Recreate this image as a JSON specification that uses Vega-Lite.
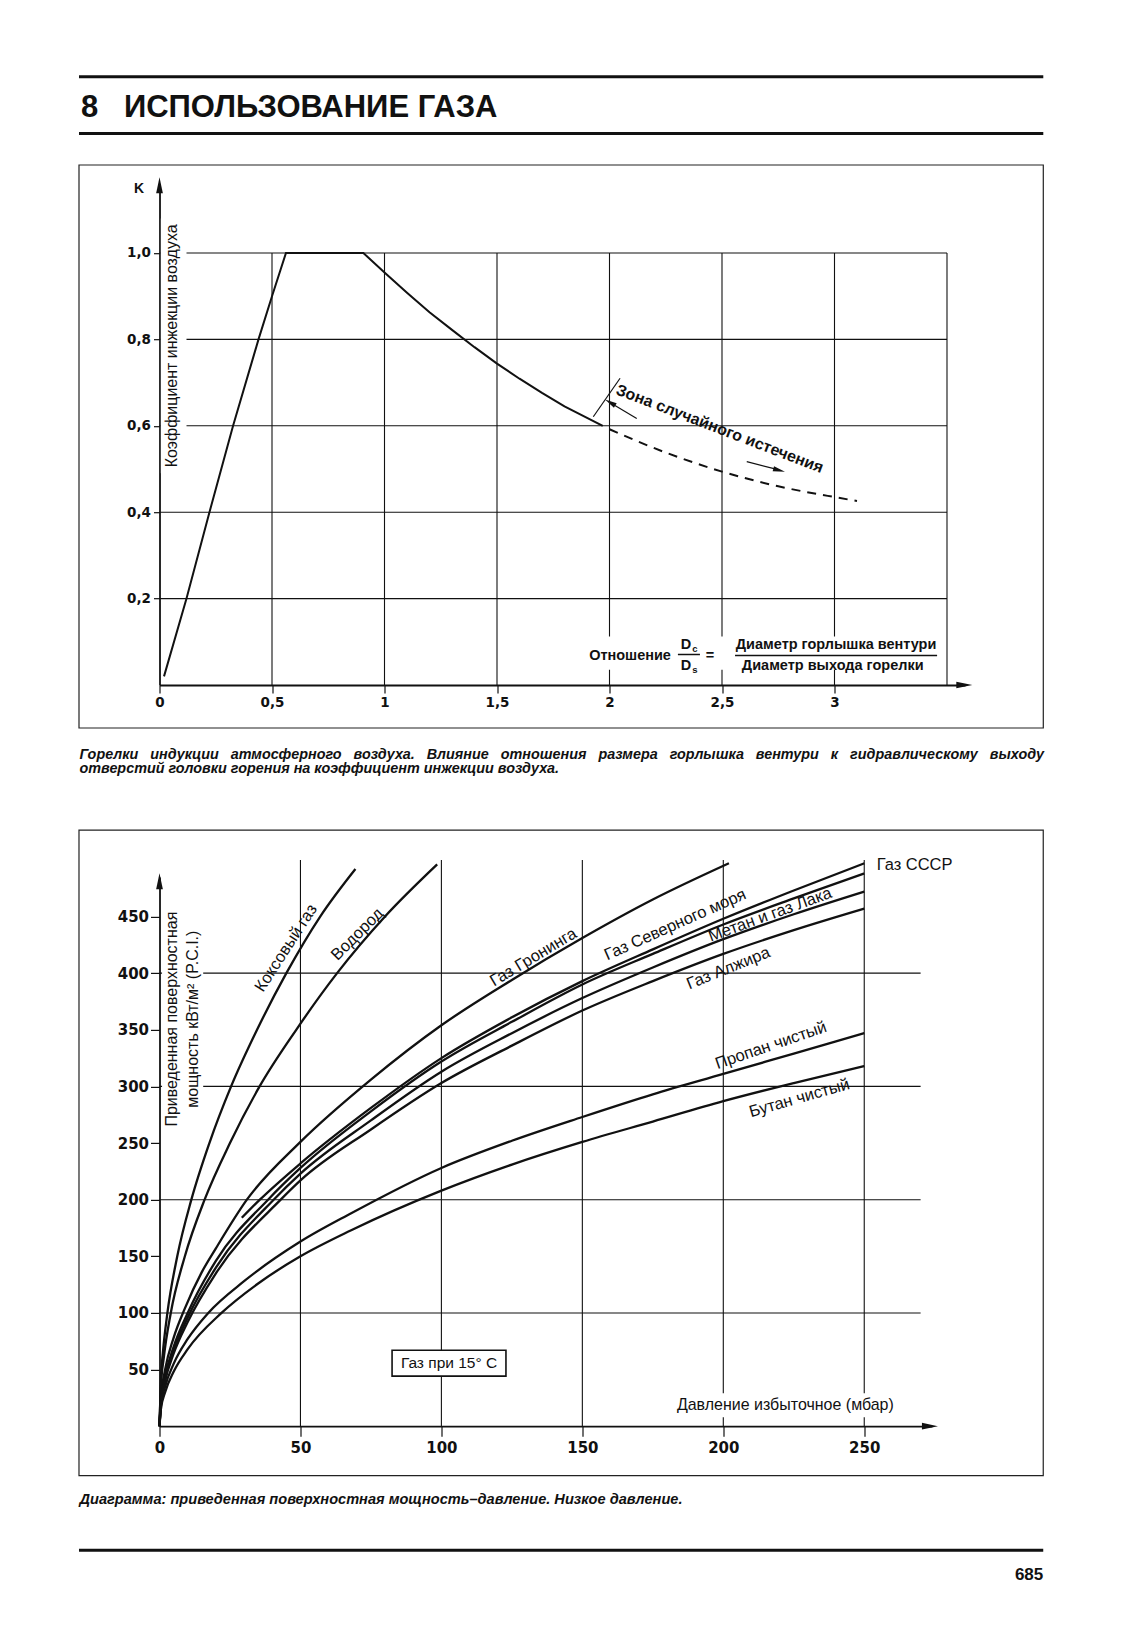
{
"$schema":"https://vega.github.io/schema/vega-lite/v6.json",
"background":"white",
"padding":{"left":76.5,"top":75.2,"right":0,"bottom":20},
"config":{"view":{"stroke":null},"font":"Liberation Sans","text":{"font":"Liberation Sans","color":"#111"},"axis":{"domainColor":"#111","tickColor":"#111","labelColor":"#111","labelFont":"DejaVu Sans","labelFontWeight":"bold","labelFlush":false,"labelOverlap":false,"grid":false,"zindex":1}},
"datasets":{
"frame1":[{"x0":-0.3578,"x1":3.928,"y0":-0.0995,"y1":1.2037}],
"hdr":[{"x0":-0.3578,"x1":3.928,"y":1.408},{"x0":-0.3578,"x1":3.928,"y":1.2769}],
"g1x":[{"v":0.5},{"v":1},{"v":1.5},{"v":2},{"v":2.5},{"v":3},{"v":3.5}],
"g1y":[{"v":0.2},{"v":0.4},{"v":0.6},{"v":0.8},{"v":1}],
"blank1":[{"x0":0.006,"x1":0.12,"y0":0.49,"y1":1.08},{"x0":1.89,"x1":3.45,"y0":0.035,"y1":0.112}],
"c1":[
{"r":0.02,"k":0.02,"s":"solid"},{"r":0.12,"k":0.2,"s":"solid"},{"r":0.222,"k":0.4,"s":"solid"},{"r":0.327,"k":0.6,"s":"solid"},{"r":0.44,"k":0.8,"s":"solid"},{"r":0.5,"k":0.9,"s":"solid"},{"r":0.562,"k":1.0,"s":"solid"},{"r":0.906,"k":1.0,"s":"solid"},{"r":1.0,"k":0.955,"s":"solid"},{"r":1.1,"k":0.908,"s":"solid"},{"r":1.2,"k":0.863,"s":"solid"},{"r":1.3,"k":0.822,"s":"solid"},{"r":1.4,"k":0.782,"s":"solid"},{"r":1.5,"k":0.744,"s":"solid"},{"r":1.6,"k":0.709,"s":"solid"},{"r":1.7,"k":0.676,"s":"solid"},{"r":1.8,"k":0.645,"s":"solid"},{"r":1.97,"k":0.6,"s":"solid"},
{"r":2.0,"k":0.592,"s":"dashed"},{"r":2.25,"k":0.538,"s":"dashed"},{"r":2.5,"k":0.494,"s":"dashed"},{"r":2.75,"k":0.46,"s":"dashed"},{"r":3.0,"k":0.435,"s":"dashed"},{"r":3.1,"k":0.426,"s":"dashed"}],
"bars1":[{"x0":2.304,"x1":2.402,"y":0.0706},{"x0":2.558,"x1":3.456,"y":0.0683}],
"zr1":[{"x0":1.928,"y0":0.621,"x1":2.047,"y1":0.71},{"x0":2.121,"y0":0.617,"x1":2.002,"y1":0.654},{"x0":2.61,"y0":0.517,"x1":2.753,"y1":0.498}],
"ah1":[{"id":"up","r":0,"k":1.157},{"id":"right","r":3.577,"k":0},{"id":"zl","r":2.003,"k":0.654},{"id":"zr","r":2.754,"k":0.497}],
"t1":[
{"id":"hd","t":"8","r":-0.349,"k":1.3352},
{"id":"hd","t":"ИСПОЛЬЗОВАНИЕ ГАЗА","r":-0.158,"k":1.3352},
{"id":"cap","t":"Горелки \u00a0\u00a0индукции \u00a0\u00a0атмосферного \u00a0\u00a0воздуха. \u00a0\u00a0Влияние \u00a0\u00a0отношения \u00a0\u00a0размера \u00a0\u00a0горлышка \u00a0\u00a0вентури \u00a0\u00a0к \u00a0\u00a0гидравлическому \u00a0\u00a0выходу","r":-0.3556,"k":-0.162},
{"id":"cap","t":"отверстий головки горения на коэффициент инжекции воздуха.","r":-0.3556,"k":-0.194},
{"id":"K","t":"K","r":-0.091,"k":1.148},
{"id":"yt","t":"Коэффициент инжекции воздуха","r":0.0542,"k":0.785},
{"id":"fr","t":"Отношение","r":2.273,"k":0.066},
{"id":"fc","t":"D","r":2.34,"k":0.0926},
{"id":"fc","t":"D","r":2.34,"k":0.044},
{"id":"fc","t":"=","r":2.447,"k":0.068},
{"id":"fc","t":"Диаметр горлышка вентури","r":3.007,"k":0.0926},
{"id":"fc","t":"Диаметр выхода горелки","r":2.992,"k":0.044},
{"id":"fs","t":"c","r":2.38,"k":0.083},
{"id":"fs","t":"s","r":2.38,"k":0.0347},
{"id":"zone","t":"Зона случайного истечения","r":2.49,"k":0.593}],
"frame2":[{"x0":-28.56,"x1":313.5,"y0":-43.7,"y1":526.3}],
"ftr":[{"x0":-28.56,"x1":313.5,"y":-109.5}],
"g2x":[{"v":50},{"v":100},{"v":150},{"v":200},{"v":250}],
"g2y":[{"v":100},{"v":200},{"v":300},{"v":400}],
"blank2":[{"x0":0.9,"x1":15.5,"y0":255,"y1":462},{"x0":178,"x1":262,"y0":8,"y1":29}],
"box2":[{"x0":82.5,"x1":122.9,"y0":44.2,"y1":67.1}],
"c2":[
{"g":"Коксовый газ","p":0,"w":0},{"g":"Коксовый газ","p":0.5,"w":42},{"g":"Коксовый газ","p":1.2,"w":65},{"g":"Коксовый газ","p":2.8,"w":100},{"g":"Коксовый газ","p":6.3,"w":150},{"g":"Коксовый газ","p":11.3,"w":200},{"g":"Коксовый газ","p":17.7,"w":250},{"g":"Коксовый газ","p":25.4,"w":300},{"g":"Коксовый газ","p":34.6,"w":350},{"g":"Коксовый газ","p":45,"w":400},{"g":"Коксовый газ","p":57,"w":450},{"g":"Коксовый газ","p":69.5,"w":492},
{"g":"Водород","p":0,"w":0},{"g":"Водород","p":0.5,"w":35},{"g":"Водород","p":1.5,"w":60},{"g":"Водород","p":4,"w":100},{"g":"Водород","p":9,"w":150},{"g":"Водород","p":16,"w":200},{"g":"Водород","p":25,"w":250},{"g":"Водород","p":35.5,"w":300},{"g":"Водород","p":48.5,"w":350},{"g":"Водород","p":63,"w":400},{"g":"Водород","p":80,"w":450},{"g":"Водород","p":98.5,"w":496},
{"g":"Газ Гронинга","p":0,"w":0},{"g":"Газ Гронинга","p":0.5,"w":25},{"g":"Газ Гронинга","p":2,"w":50},{"g":"Газ Гронинга","p":5,"w":78},{"g":"Газ Гронинга","p":9,"w":104},{"g":"Газ Гронинга","p":15,"w":136},{"g":"Газ Гронинга","p":20,"w":157},{"g":"Газ Гронинга","p":31,"w":200},{"g":"Газ Гронинга","p":50,"w":251},{"g":"Газ Гронинга","p":75,"w":306},{"g":"Газ Гронинга","p":100,"w":354},{"g":"Газ Гронинга","p":125,"w":394},{"g":"Газ Гронинга","p":150,"w":431},{"g":"Газ Гронинга","p":175,"w":465},{"g":"Газ Гронинга","p":202,"w":497},
{"g":"Газ СССР","p":29.2,"w":184},{"g":"Газ СССР","p":35.6,"w":200},{"g":"Газ СССР","p":50,"w":232},{"g":"Газ СССР","p":75,"w":281},{"g":"Газ СССР","p":100,"w":325},{"g":"Газ СССР","p":125,"w":361},{"g":"Газ СССР","p":150,"w":393},{"g":"Газ СССР","p":175,"w":421},{"g":"Газ СССР","p":200,"w":448},{"g":"Газ СССР","p":225,"w":473},{"g":"Газ СССР","p":250,"w":497},
{"g":"Газ Северного моря","p":0,"w":0},{"g":"Газ Северного моря","p":0.5,"w":22},{"g":"Газ Северного моря","p":2,"w":44},{"g":"Газ Северного моря","p":5,"w":70},{"g":"Газ Северного моря","p":10,"w":100},{"g":"Газ Северного моря","p":20,"w":146},{"g":"Газ Северного моря","p":38.5,"w":200},{"g":"Газ Северного моря","p":50,"w":228},{"g":"Газ Северного моря","p":75,"w":278},{"g":"Газ Северного моря","p":100,"w":322},{"g":"Газ Северного моря","p":125,"w":357},{"g":"Газ Северного моря","p":150,"w":390},{"g":"Газ Северного моря","p":175,"w":417},{"g":"Газ Северного моря","p":200,"w":443},{"g":"Газ Северного моря","p":225,"w":466},{"g":"Газ Северного моря","p":250,"w":488},
{"g":"Метан и газ Лака","p":0,"w":0},{"g":"Метан и газ Лака","p":0.5,"w":21},{"g":"Метан и газ Лака","p":2,"w":42},{"g":"Метан и газ Лака","p":5,"w":67},{"g":"Метан и газ Лака","p":10,"w":96},{"g":"Метан и газ Лака","p":20,"w":140},{"g":"Метан и газ Лака","p":40.5,"w":200},{"g":"Метан и газ Лака","p":50,"w":223},{"g":"Метан и газ Лака","p":75,"w":270},{"g":"Метан и газ Лака","p":100,"w":313},{"g":"Метан и газ Лака","p":125,"w":347},{"g":"Метан и газ Лака","p":150,"w":378},{"g":"Метан и газ Лака","p":175,"w":405},{"g":"Метан и газ Лака","p":200,"w":430},{"g":"Метан и газ Лака","p":225,"w":452},{"g":"Метан и газ Лака","p":250,"w":472},
{"g":"Газ Алжира","p":0,"w":0},{"g":"Газ Алжира","p":0.5,"w":20},{"g":"Газ Алжира","p":2,"w":40},{"g":"Газ Алжира","p":5,"w":64},{"g":"Газ Алжира","p":10,"w":92},{"g":"Газ Алжира","p":20,"w":135},{"g":"Газ Алжира","p":43,"w":200},{"g":"Газ Алжира","p":50,"w":217},{"g":"Газ Алжира","p":75,"w":262},{"g":"Газ Алжира","p":100,"w":303},{"g":"Газ Алжира","p":125,"w":336},{"g":"Газ Алжира","p":150,"w":367},{"g":"Газ Алжира","p":175,"w":393},{"g":"Газ Алжира","p":200,"w":417},{"g":"Газ Алжира","p":225,"w":438},{"g":"Газ Алжира","p":250,"w":457},
{"g":"Пропан чистый","p":0,"w":0},{"g":"Пропан чистый","p":0.5,"w":18},{"g":"Пропан чистый","p":2,"w":35},{"g":"Пропан чистый","p":5,"w":55},{"g":"Пропан чистый","p":10,"w":77},{"g":"Пропан чистый","p":17.3,"w":100},{"g":"Пропан чистый","p":30,"w":128},{"g":"Пропан чистый","p":50,"w":163},{"g":"Пропан чистый","p":68,"w":188},{"g":"Пропан чистый","p":100,"w":228},{"g":"Пропан чистый","p":125,"w":252},{"g":"Пропан чистый","p":150,"w":273},{"g":"Пропан чистый","p":175,"w":293},{"g":"Пропан чистый","p":200,"w":311},{"g":"Пропан чистый","p":225,"w":329},{"g":"Пропан чистый","p":250,"w":347},
{"g":"Бутан чистый","p":0,"w":0},{"g":"Бутан чистый","p":0.5,"w":15},{"g":"Бутан чистый","p":2,"w":30},{"g":"Бутан чистый","p":5,"w":48},{"g":"Бутан чистый","p":10,"w":68},{"g":"Бутан чистый","p":22,"w":100},{"g":"Бутан чистый","p":35,"w":126},{"g":"Бутан чистый","p":50,"w":150},{"g":"Бутан чистый","p":68,"w":173},{"g":"Бутан чистый","p":100,"w":208},{"g":"Бутан чистый","p":125,"w":231},{"g":"Бутан чистый","p":150,"w":251},{"g":"Бутан чистый","p":175,"w":269},{"g":"Бутан чистый","p":200,"w":287},{"g":"Бутан чистый","p":225,"w":303},{"g":"Бутан чистый","p":250,"w":318}],
"lab2":[{"n":"Коксовый газ","p":44.9,"w":422.1},{"n":"Водород","p":70.2,"w":434.4},{"n":"Газ Гронинга","p":132.6,"w":414},{"n":"Газ Северного моря","p":182.9,"w":442.8},{"n":"Метан и газ Лака","p":216.6,"w":451.6},{"n":"Газ Алжира","p":201.8,"w":404.3},{"n":"Пропан чистый","p":216.9,"w":336.2},{"n":"Бутан чистый","p":227,"w":289.7},{"n":"Газ СССР","p":254.4,"w":495.4}],
"t2":[
{"id":"cap","t":"Диаграмма: приведенная поверхностная мощность–давление. Низкое давление.","p":-28.38,"w":-65.3},
{"id":"pg","t":"685","p":313.5,"w":-131.6},
{"id":"yt","t":"Приведенная поверхностная","p":4.33,"w":359.4},
{"id":"yt","t":"мощность кВт/м² (P.C.I.)","p":11.99,"w":359.4},
{"id":"xt","t":"Давление избыточное (мбар)","p":260.5,"w":18.5},
{"id":"box","t":"Газ при 15° C","p":102.7,"w":55.7}],
"ah2":[{"id":"up","p":0,"w":481.2},{"id":"right","p":273.3,"w":0}]
},
"spacing":191.7,
"bounds":"flush",
"vconcat":[
{"width":805.5,"height":496.8,"layer":[
{"data":{"name":"frame1"},"mark":{"type":"rect","filled":false,"stroke":"#222","strokeWidth":1.2},"encoding":{"x":{"field":"x0","type":"quantitative","scale":{"domain":[0,3.58],"nice":false,"zero":false},"axis":{"orient":"bottom","values":[0,0.5,1,1.5,2,2.5,3],"format":"~g","labelExpr":"replace(datum.label, '.', ',')","title":null,"domainWidth":1.8,"tickSize":8,"tickWidth":1.2,"labelPadding":3,"labelFontSize":13.5}},"x2":{"field":"x1"},"y":{"field":"y0","type":"quantitative","scale":{"domain":[0,1.15],"nice":false,"zero":false},"axis":{"orient":"left","values":[0.2,0.4,0.6,0.8,1],"format":".1f","labelExpr":"replace(datum.label, '.', ',')","title":null,"domainWidth":1.8,"tickSize":6,"tickWidth":1.2,"labelPadding":3,"labelFontSize":13.5}},"y2":{"field":"y1"}}},
{"data":{"name":"hdr"},"mark":{"type":"rule","color":"#111","strokeWidth":3},"encoding":{"x":{"field":"x0","type":"quantitative"},"x2":{"field":"x1"},"y":{"field":"y","type":"quantitative"}}},
{"data":{"name":"g1x"},"mark":{"type":"rule","color":"#111","strokeWidth":1.1},"encoding":{"x":{"field":"v","type":"quantitative"},"y":{"datum":0,"type":"quantitative"},"y2":{"datum":1}}},
{"data":{"name":"g1y"},"mark":{"type":"rule","color":"#111","strokeWidth":1.1},"encoding":{"y":{"field":"v","type":"quantitative"},"x":{"datum":0,"type":"quantitative"},"x2":{"datum":3.5}}},
{"data":{"name":"blank1"},"mark":{"type":"rect","fill":"white","strokeWidth":0},"encoding":{"x":{"field":"x0","type":"quantitative"},"x2":{"field":"x1"},"y":{"field":"y0","type":"quantitative"},"y2":{"field":"y1"}}},
{"data":{"name":"c1"},"transform":[{"filter":"datum.s === 'solid'"}],"mark":{"type":"line","color":"#111","strokeWidth":2},"encoding":{"x":{"field":"r","type":"quantitative"},"y":{"field":"k","type":"quantitative"}}},
{"data":{"name":"c1"},"transform":[{"filter":"datum.s === 'dashed'"}],"mark":{"type":"line","color":"#111","strokeWidth":2,"strokeDash":[9,7],"interpolate":"monotone"},"encoding":{"x":{"field":"r","type":"quantitative"},"y":{"field":"k","type":"quantitative"}}},
{"data":{"name":"bars1"},"mark":{"type":"rule","color":"#111","strokeWidth":1.5},"encoding":{"x":{"field":"x0","type":"quantitative"},"x2":{"field":"x1"},"y":{"field":"y","type":"quantitative"}}},
{"data":{"name":"zr1"},"mark":{"type":"rule","color":"#111","strokeWidth":1.2},"encoding":{"x":{"field":"x0","type":"quantitative"},"x2":{"field":"x1"},"y":{"field":"y0","type":"quantitative"},"y2":{"field":"y1"}}},
{"data":{"name":"ah1"},"transform":[{"filter":"datum.id === 'up'"}],"mark":{"type":"point","shape":"M0,-1L0.42,1L-0.42,1Z","size":256,"filled":true,"color":"#111","opacity":1,"strokeWidth":0},"encoding":{"x":{"field":"r","type":"quantitative"},"y":{"field":"k","type":"quantitative"}}},
{"data":{"name":"ah1"},"transform":[{"filter":"datum.id === 'right'"}],"mark":{"type":"point","shape":"M1,0L-1,0.42L-1,-0.42Z","size":256,"filled":true,"color":"#111","opacity":1,"strokeWidth":0},"encoding":{"x":{"field":"r","type":"quantitative"},"y":{"field":"k","type":"quantitative"}}},
{"data":{"name":"ah1"},"transform":[{"filter":"datum.id === 'zl'"}],"mark":{"type":"point","shape":"M1,0L-1,0.45L-1,-0.45Z","size":144,"angle":211,"filled":true,"color":"#111","opacity":1,"strokeWidth":0},"encoding":{"x":{"field":"r","type":"quantitative"},"y":{"field":"k","type":"quantitative"}}},
{"data":{"name":"ah1"},"transform":[{"filter":"datum.id === 'zr'"}],"mark":{"type":"point","shape":"M1,0L-1,0.45L-1,-0.45Z","size":144,"angle":15,"filled":true,"color":"#111","opacity":1,"strokeWidth":0},"encoding":{"x":{"field":"r","type":"quantitative"},"y":{"field":"k","type":"quantitative"}}},
{"data":{"name":"t1"},"transform":[{"filter":"datum.id === 'hd'"}],"mark":{"type":"text","fontSize":31,"fontWeight":"bold","align":"left","baseline":"middle"},"encoding":{"x":{"field":"r","type":"quantitative"},"y":{"field":"k","type":"quantitative"},"text":{"field":"t"}}},
{"data":{"name":"t1"},"transform":[{"filter":"datum.id === 'cap'"}],"mark":{"type":"text","fontSize":14.4,"fontWeight":"bold","fontStyle":"italic","align":"left","baseline":"middle"},"encoding":{"x":{"field":"r","type":"quantitative"},"y":{"field":"k","type":"quantitative"},"text":{"field":"t"}}},
{"data":{"name":"t1"},"transform":[{"filter":"datum.id === 'K'"}],"mark":{"type":"text","fontSize":14,"fontWeight":"bold","align":"center","baseline":"middle"},"encoding":{"x":{"field":"r","type":"quantitative"},"y":{"field":"k","type":"quantitative"},"text":{"field":"t"}}},
{"data":{"name":"t1"},"transform":[{"filter":"datum.id === 'yt'"}],"mark":{"type":"text","fontSize":16,"angle":270,"align":"center","baseline":"middle"},"encoding":{"x":{"field":"r","type":"quantitative"},"y":{"field":"k","type":"quantitative"},"text":{"field":"t"}}},
{"data":{"name":"t1"},"transform":[{"filter":"datum.id === 'fr'"}],"mark":{"type":"text","fontSize":14.5,"fontWeight":"bold","align":"right","baseline":"middle"},"encoding":{"x":{"field":"r","type":"quantitative"},"y":{"field":"k","type":"quantitative"},"text":{"field":"t"}}},
{"data":{"name":"t1"},"transform":[{"filter":"datum.id === 'fc'"}],"mark":{"type":"text","fontSize":14.5,"fontWeight":"bold","align":"center","baseline":"middle"},"encoding":{"x":{"field":"r","type":"quantitative"},"y":{"field":"k","type":"quantitative"},"text":{"field":"t"}}},
{"data":{"name":"t1"},"transform":[{"filter":"datum.id === 'fs'"}],"mark":{"type":"text","fontSize":9.5,"fontWeight":"bold","align":"center","baseline":"middle"},"encoding":{"x":{"field":"r","type":"quantitative"},"y":{"field":"k","type":"quantitative"},"text":{"field":"t"}}},
{"data":{"name":"t1"},"transform":[{"filter":"datum.id === 'zone'"}],"mark":{"type":"text","fontSize":16,"fontWeight":"bold","angle":21,"align":"center","baseline":"middle"},"encoding":{"x":{"field":"r","type":"quantitative"},"y":{"field":"k","type":"quantitative"},"text":{"field":"t"}}}
]},
{"width":772.4,"height":549.3,"layer":[
{"data":{"name":"frame2"},"mark":{"type":"rect","filled":false,"stroke":"#222","strokeWidth":1.2},"encoding":{"x":{"field":"x0","type":"quantitative","scale":{"domain":[0,274],"nice":false,"zero":false},"axis":{"orient":"bottom","values":[0,50,100,150,200,250],"title":null,"domainWidth":1.8,"tickSize":10,"tickWidth":1.2,"labelPadding":4,"labelFontSize":15}},"x2":{"field":"x1"},"y":{"field":"y0","type":"quantitative","scale":{"domain":[0,485],"nice":false,"zero":false},"axis":{"orient":"left","values":[50,100,150,200,250,300,350,400,450],"title":null,"domainWidth":1.8,"tickSize":9,"tickWidth":1.2,"labelPadding":2,"labelFontSize":15}},"y2":{"field":"y1"}}},
{"data":{"name":"ftr"},"mark":{"type":"rule","color":"#111","strokeWidth":3},"encoding":{"x":{"field":"x0","type":"quantitative"},"x2":{"field":"x1"},"y":{"field":"y","type":"quantitative"}}},
{"data":{"name":"g2x"},"mark":{"type":"rule","color":"#111","strokeWidth":1.1},"encoding":{"x":{"field":"v","type":"quantitative"},"y":{"datum":0,"type":"quantitative"},"y2":{"datum":500}}},
{"data":{"name":"g2y"},"mark":{"type":"rule","color":"#111","strokeWidth":1.1},"encoding":{"y":{"field":"v","type":"quantitative"},"x":{"datum":0,"type":"quantitative"},"x2":{"datum":270}}},
{"data":{"name":"blank2"},"mark":{"type":"rect","fill":"white","strokeWidth":0},"encoding":{"x":{"field":"x0","type":"quantitative"},"x2":{"field":"x1"},"y":{"field":"y0","type":"quantitative"},"y2":{"field":"y1"}}},
{"data":{"name":"box2"},"mark":{"type":"rect","fill":"white","stroke":"#111","strokeWidth":1.6},"encoding":{"x":{"field":"x0","type":"quantitative"},"x2":{"field":"x1"},"y":{"field":"y0","type":"quantitative"},"y2":{"field":"y1"}}},
{"data":{"name":"c2"},"mark":{"type":"line","color":"#111","strokeWidth":2.3,"interpolate":"monotone"},"encoding":{"x":{"field":"p","type":"quantitative"},"y":{"field":"w","type":"quantitative"},"detail":{"field":"g"}}},
{"data":{"name":"lab2"},"transform":[{"filter":"datum.n === 'Коксовый газ'"}],"mark":{"type":"text","fontSize":16.5,"angle":303,"align":"center","baseline":"middle"},"encoding":{"x":{"field":"p","type":"quantitative"},"y":{"field":"w","type":"quantitative"},"text":{"field":"n"}}},
{"data":{"name":"lab2"},"transform":[{"filter":"datum.n === 'Водород'"}],"mark":{"type":"text","fontSize":16.5,"angle":315,"align":"center","baseline":"middle"},"encoding":{"x":{"field":"p","type":"quantitative"},"y":{"field":"w","type":"quantitative"},"text":{"field":"n"}}},
{"data":{"name":"lab2"},"transform":[{"filter":"datum.n === 'Газ Гронинга'"}],"mark":{"type":"text","fontSize":16.5,"angle":329,"align":"center","baseline":"middle"},"encoding":{"x":{"field":"p","type":"quantitative"},"y":{"field":"w","type":"quantitative"},"text":{"field":"n"}}},
{"data":{"name":"lab2"},"transform":[{"filter":"datum.n === 'Газ Северного моря'"}],"mark":{"type":"text","fontSize":16.5,"angle":336,"align":"center","baseline":"middle"},"encoding":{"x":{"field":"p","type":"quantitative"},"y":{"field":"w","type":"quantitative"},"text":{"field":"n"}}},
{"data":{"name":"lab2"},"transform":[{"filter":"datum.n === 'Метан и газ Лака'"}],"mark":{"type":"text","fontSize":16.5,"angle":340,"align":"center","baseline":"middle"},"encoding":{"x":{"field":"p","type":"quantitative"},"y":{"field":"w","type":"quantitative"},"text":{"field":"n"}}},
{"data":{"name":"lab2"},"transform":[{"filter":"datum.n === 'Газ Алжира'"}],"mark":{"type":"text","fontSize":16.5,"angle":338,"align":"center","baseline":"middle"},"encoding":{"x":{"field":"p","type":"quantitative"},"y":{"field":"w","type":"quantitative"},"text":{"field":"n"}}},
{"data":{"name":"lab2"},"transform":[{"filter":"datum.n === 'Пропан чистый'"}],"mark":{"type":"text","fontSize":16.5,"angle":341,"align":"center","baseline":"middle"},"encoding":{"x":{"field":"p","type":"quantitative"},"y":{"field":"w","type":"quantitative"},"text":{"field":"n"}}},
{"data":{"name":"lab2"},"transform":[{"filter":"datum.n === 'Бутан чистый'"}],"mark":{"type":"text","fontSize":16.5,"angle":344,"align":"center","baseline":"middle"},"encoding":{"x":{"field":"p","type":"quantitative"},"y":{"field":"w","type":"quantitative"},"text":{"field":"n"}}},
{"data":{"name":"lab2"},"transform":[{"filter":"datum.n === 'Газ СССР'"}],"mark":{"type":"text","fontSize":16.5,"align":"left","baseline":"middle"},"encoding":{"x":{"field":"p","type":"quantitative"},"y":{"field":"w","type":"quantitative"},"text":{"field":"n"}}},
{"data":{"name":"t2"},"transform":[{"filter":"datum.id === 'cap'"}],"mark":{"type":"text","fontSize":14.6,"fontWeight":"bold","fontStyle":"italic","align":"left","baseline":"middle"},"encoding":{"x":{"field":"p","type":"quantitative"},"y":{"field":"w","type":"quantitative"},"text":{"field":"t"}}},
{"data":{"name":"t2"},"transform":[{"filter":"datum.id === 'pg'"}],"mark":{"type":"text","fontSize":17,"fontWeight":"bold","align":"right","baseline":"middle"},"encoding":{"x":{"field":"p","type":"quantitative"},"y":{"field":"w","type":"quantitative"},"text":{"field":"t"}}},
{"data":{"name":"t2"},"transform":[{"filter":"datum.id === 'yt'"}],"mark":{"type":"text","fontSize":16,"angle":270,"align":"center","baseline":"middle"},"encoding":{"x":{"field":"p","type":"quantitative"},"y":{"field":"w","type":"quantitative"},"text":{"field":"t"}}},
{"data":{"name":"t2"},"transform":[{"filter":"datum.id === 'xt'"}],"mark":{"type":"text","fontSize":16,"align":"right","baseline":"middle"},"encoding":{"x":{"field":"p","type":"quantitative"},"y":{"field":"w","type":"quantitative"},"text":{"field":"t"}}},
{"data":{"name":"t2"},"transform":[{"filter":"datum.id === 'box'"}],"mark":{"type":"text","fontSize":15.5,"align":"center","baseline":"middle"},"encoding":{"x":{"field":"p","type":"quantitative"},"y":{"field":"w","type":"quantitative"},"text":{"field":"t"}}},
{"data":{"name":"ah2"},"transform":[{"filter":"datum.id === 'up'"}],"mark":{"type":"point","shape":"M0,-1L0.42,1L-0.42,1Z","size":256,"filled":true,"color":"#111","opacity":1,"strokeWidth":0},"encoding":{"x":{"field":"p","type":"quantitative"},"y":{"field":"w","type":"quantitative"}}},
{"data":{"name":"ah2"},"transform":[{"filter":"datum.id === 'right'"}],"mark":{"type":"point","shape":"M1,0L-1,0.42L-1,-0.42Z","size":256,"filled":true,"color":"#111","opacity":1,"strokeWidth":0},"encoding":{"x":{"field":"p","type":"quantitative"},"y":{"field":"w","type":"quantitative"}}}
]}
]
}
